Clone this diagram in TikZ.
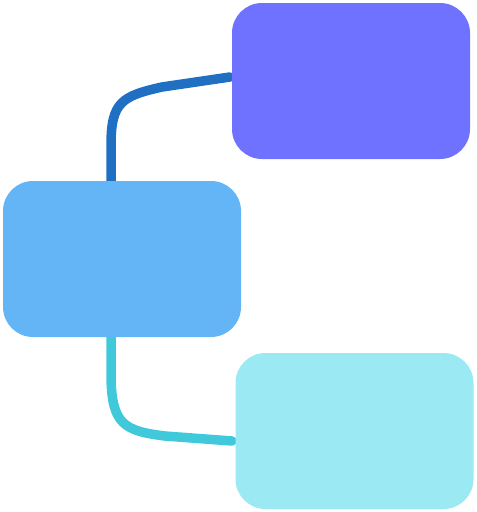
\documentclass[tikz,border=0pt]{standalone}
\definecolor{topc}{HTML}{6F71FF}
\definecolor{midc}{HTML}{64B5F6}
\definecolor{botc}{HTML}{9BE9F2}
\definecolor{linetop}{HTML}{1F70C2}
\definecolor{linebot}{HTML}{40C9DB}
\begin{document}
\begin{tikzpicture}[x=1pt,y=-1pt,
  box/.style={rounded corners=30pt,inner sep=0pt,minimum width=238pt,minimum height=156pt,draw=none},
  conn/.style={line width=9.5pt,line cap=round}]
\useasboundingbox (0,0) rectangle (477,512);
\coordinate (t0) at (111,185);
\coordinate (t1) at (230,77);
\coordinate (b0) at (111,333);
\coordinate (b1) at (232,441);
\draw[conn,linetop] (t0) -- (111,145) .. controls (111,102) and (122,96) .. (162,87) -- (t1);
\draw[conn,linebot] (b0) -- (111,378) .. controls (112,424) and (124,431) .. (165,436) -- (b1);
\node[box,fill=topc] (top) at (351,81) {};
\node[box,fill=midc] (mid) at (122,259) {};
\node[box,fill=botc] (bot) at (354.5,431) {};
\end{tikzpicture}
\end{document}
